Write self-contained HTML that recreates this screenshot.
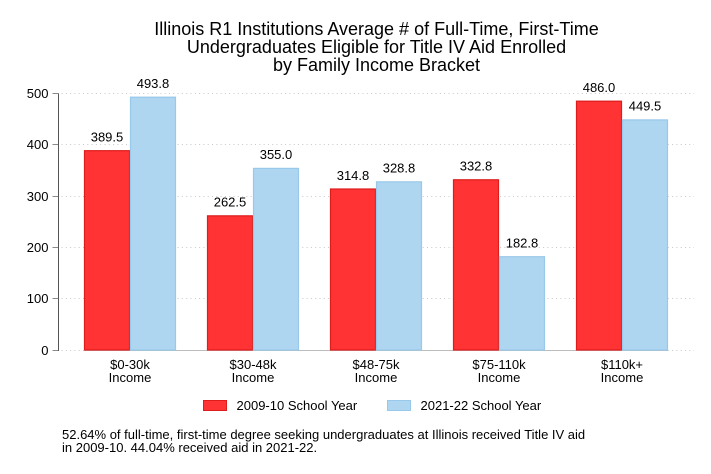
<!DOCTYPE html>
<html>
<head>
<meta charset="utf-8">
<style>
html,body{margin:0;padding:0;background:#fff;width:711px;height:474px;overflow:hidden}
svg{display:block}
text{font-family:"Liberation Sans",Arial,sans-serif;fill:#000}
</style>
</head>
<body>
<svg id="chart" width="711" height="474" viewBox="0 0 711 474" xmlns="http://www.w3.org/2000/svg">
  <g font-size="18" text-anchor="middle">
    <text x="376.5" y="35">Illinois R1 Institutions Average # of Full-Time, First-Time</text>
    <text x="376.5" y="53">Undergraduates Eligible for Title IV Aid Enrolled</text>
    <text x="376.5" y="71">by Family Income Bracket</text>
  </g>
  <g id="grid"></g>
  <g id="axes-back"></g>
  <g id="bars"></g>
  <g id="axes"></g>
  <g id="labels"></g>
  <g font-size="13">
    <g>
      <rect x="203.5" y="400.5" width="23" height="10" fill="#ff3333" stroke="#dd1c1c"/>
      <text x="236.5" y="410">2009-10 School Year</text>
    </g>
    <g>
      <rect x="387.5" y="400.5" width="23" height="10" fill="#afd6f1" stroke="#98c8ea"/>
      <text x="420.5" y="410">2021-22 School Year</text>
    </g>
  </g>
  <g font-size="13">
    <text x="62" y="439">52.64% of full-time, first-time degree seeking undergraduates at Illinois received Title IV aid</text>
    <text x="62" y="452">in 2009-10. 44.04% received aid in 2021-22.</text>
  </g>
</svg>
<script>
const categories = ["$0-30k", "$30-48k", "$48-75k", "$75-110k", "$110k+"];
const series2009 = [389.5, 262.5, 314.8, 332.8, 486.0];
const series2021 = [493.8, 355.0, 328.8, 182.8, 449.5];
const yTicks = [0, 100, 200, 300, 400, 500];

const NS = "http://www.w3.org/2000/svg";
const y0 = 350, yPerUnit = 256.5 / 500;
const firstCenter = 130, step = 123, barW = 46;
const axisX = 58.5, plotRight = 694;
function yScale(v) { return y0 - v * yPerUnit; }
function xScale(i) { return firstCenter + i * step; }
function make(parent, tag, attrs, text) {
  const el = document.createElementNS(NS, tag);
  for (const k in attrs) el.setAttribute(k, attrs[k]);
  if (text !== undefined) el.textContent = text;
  parent.appendChild(el);
  return el;
}
const grid = document.getElementById("grid");
const bars = document.getElementById("bars");
const axes = document.getElementById("axes");
const axesBack = document.getElementById("axes-back");
const labels = document.getElementById("labels");

yTicks.forEach(function (t) {
  const y = Math.floor(yScale(t)) + 0.5;
  const line = make(grid, "line", { x1: axisX + 3, x2: plotRight, y1: y, y2: y, stroke: "#c8c8c8", "stroke-width": 1, "stroke-dasharray": "1 3.3" });
  
  
  const tick = make(axes, "line", { x1: axisX - 6, x2: axisX, y1: y, y2: y, stroke: "#8a8a8a", "stroke-width": 1 });
  
  
  const lab = make(axes, "text", { x: axisX - 10, y: y + 4.5, "text-anchor": "end", "font-size": 13 }, String(t));
  
  
});

const xAxis = make(axesBack, "line", { x1: axisX + 26, x2: plotRight - 26, y1: y0 + 0.5, y2: y0 + 0.5, stroke: "#bdbdbd", "stroke-width": 1 });



function drawBar(v, left, fill, stroke) {
  const top = yScale(v);
  const r = make(bars, "rect", { x: left + 0.5, y: top + 0.5, width: barW - 1, height: y0 - top - 0.5, fill: fill, stroke: stroke, "stroke-width": 1.2 });
  
  
  const t = make(labels, "text", { x: left + barW / 2, y: top - 8.7, "text-anchor": "middle", "font-size": 13 }, v.toFixed(1));
  
  
}
categories.forEach(function (c, i) {
  const cx = xScale(i);
  drawBar(series2009[i], cx - barW, "#ff3333", "#dd1c1c");
  drawBar(series2021[i], cx, "#afd6f1", "#98c8ea");
  const l1 = make(axes, "text", { x: cx, y: 369, "text-anchor": "middle", "font-size": 13 }, c);
  
  
  const l2 = make(axes, "text", { x: cx, y: 382, "text-anchor": "middle", "font-size": 13 }, "Income");
  
  
});

const yAxis = make(axes, "line", { x1: axisX, x2: axisX, y1: yScale(500), y2: y0 + 1, stroke: "#555", "stroke-width": 1 });


</script>
</body>
</html>
